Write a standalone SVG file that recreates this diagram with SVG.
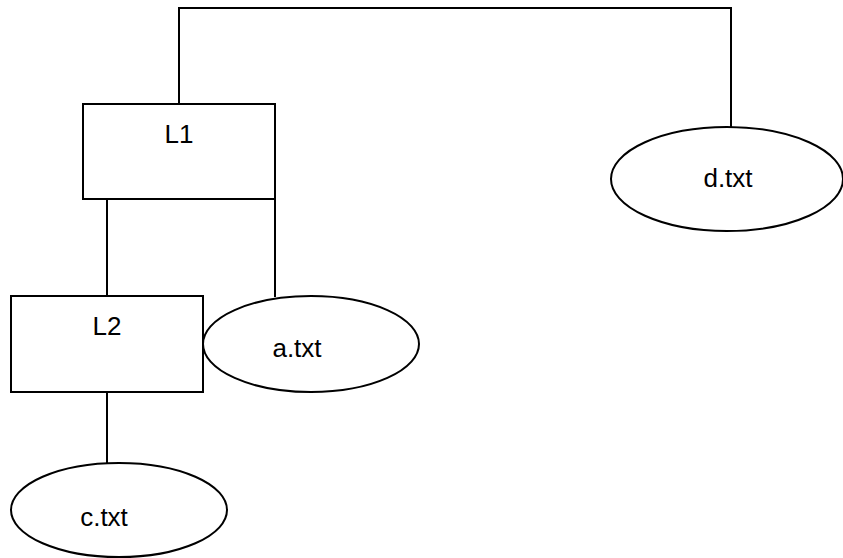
<svg xmlns="http://www.w3.org/2000/svg" width="843" height="558" viewBox="0 0 843 558">
<style>
.shape{fill:#fff;stroke:#000;stroke-width:2}
.conn{fill:none;stroke:#000;stroke-width:2}
.lbl{font-family:"Liberation Sans",Arial,sans-serif;font-size:26px;fill:#000;text-anchor:middle}
</style>
<rect width="843" height="558" fill="#fff"/>
<g id="connectors">
<polyline class="conn" points="179,104 179,8 731,8 731,127"/>
<line class="conn" x1="107" y1="199" x2="107" y2="296"/>
<line class="conn" x1="275" y1="199" x2="275" y2="297"/>
<line class="conn" x1="107" y1="392" x2="107" y2="463"/>
</g>
<g id="L1">
<rect class="shape" x="83" y="104" width="192" height="95"/>
<text class="lbl" x="179" y="143">L1</text>
</g>
<g id="L2">
<rect class="shape" x="11" y="296" width="192" height="96"/>
<text class="lbl" x="107" y="335">L2</text>
</g>
<g id="a_txt">
<ellipse class="shape" cx="311" cy="344" rx="108" ry="48"/>
<text class="lbl" x="297" y="357">a.txt</text>
</g>
<g id="c_txt">
<ellipse class="shape" cx="119" cy="510" rx="108" ry="47"/>
<text class="lbl" x="104" y="526">c.txt</text>
</g>
<g id="d_txt">
<ellipse class="shape" cx="727" cy="179" rx="116" ry="52"/>
<text class="lbl" x="728" y="187">d.txt</text>
</g>
</svg>
